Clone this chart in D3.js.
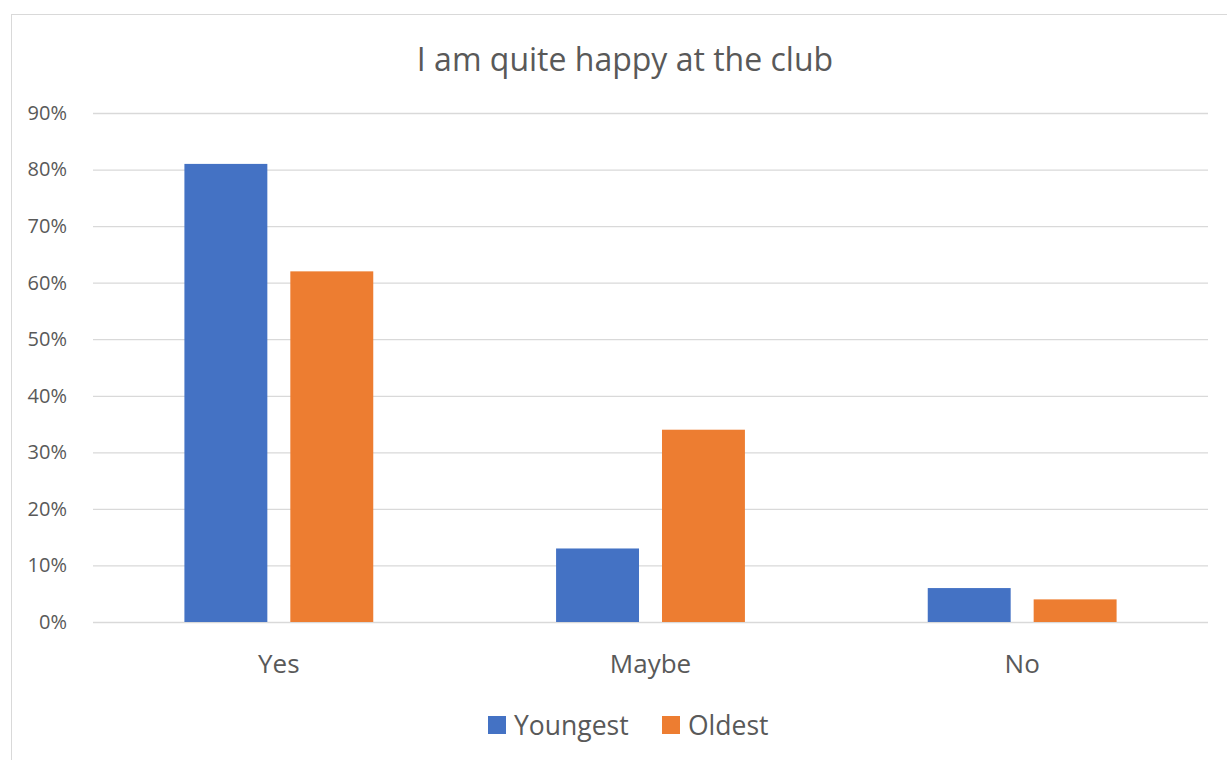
<!DOCTYPE html>
<html>
<head>
<meta charset="utf-8">
<script src="https://cdn.jsdelivr.net/npm/d3@7"></script>
<style>
  body { margin: 0; background: #fff; }
  svg { display: block; font-family: "Open Sans", sans-serif; }
</style>
</head>
<body>
<svg id="chart"></svg>
<script>
const categories = ['Yes', 'Maybe', 'No'];
const seriesNames = ['Youngest', 'Oldest'];
const youngest = [0.81, 0.13, 0.06];
const oldest = [0.62, 0.34, 0.04];
const yTicks = [0, 0.1, 0.2, 0.3, 0.4, 0.5, 0.6, 0.7, 0.8, 0.9];
const colors = ['#4472C4', '#ED7D31'];

const width = 1227, height = 760;
const margin = { top: 113, right: 19, bottom: 138, left: 93 };

const svg = d3.select('#chart')
  .attr('width', width)
  .attr('height', height);

// chart frame
svg.append('rect')
  .attr('x', 11.5).attr('y', 14.5)
  .attr('width', width + 10).attr('height', height + 10)
  .attr('fill', '#fff')
  .attr('stroke', '#D9D9D9');

svg.append('text')
  .attr('x', 625).attr('y', 71)
  .attr('text-anchor', 'middle')
  .attr('font-size', 32)
  .attr('fill', '#595959')
  .text('I am quite happy at the club');

const x = d3.scaleBand()
  .domain(categories)
  .range([margin.left, width - margin.right]);

const x1 = d3.scaleBand()
  .domain(seriesNames)
  .range([0, x.bandwidth()])
  .paddingInner(0.217)
  .paddingOuter(0.863);

const y = d3.scaleLinear()
  .domain([0, 0.9])
  .range([height - margin.bottom, margin.top]);

// gridlines
svg.append('g')
  .attr('transform', `translate(${margin.left},0)`)
  .call(d3.axisLeft(y).tickValues(yTicks).tickSize(-(width - margin.left - margin.right)).tickFormat(''))
  .call(g => g.select('.domain').remove())
  .call(g => g.selectAll('line').attr('stroke', '#D9D9D9').attr('stroke-width', 1.3));

// y labels
svg.append('g')
  .attr('transform', `translate(${margin.left - 23},0)`)
  .call(d3.axisLeft(y).tickValues(yTicks).tickSize(0).tickFormat(d3.format('.0%')))
  .call(g => g.select('.domain').remove())
  .call(g => g.selectAll('text').attr('font-size', 20).attr('fill', '#595959').attr('font-family', '"Open Sans", sans-serif'));

const series = [youngest, oldest];

const groups = svg.append('g').selectAll('g')
  .data(categories)
  .join('g')
  .attr('transform', d => `translate(${x(d)},0)`);

groups.selectAll('rect')
  .data((d, i) => seriesNames.map((s, j) => ({ s, v: series[j][i], c: colors[j] })))
  .join('rect')
  .attr('x', d => x1(d.s))
  .attr('width', x1.bandwidth())
  .attr('y', d => y(d.v))
  .attr('height', d => y(0) - y(d.v))
  .attr('fill', d => d.c);

// x labels
svg.append('g')
  .attr('transform', `translate(0,${y(0) + 30})`)
  .call(d3.axisBottom(x).tickSize(0))
  .call(g => g.select('.domain').remove())
  .call(g => g.selectAll('text').attr('font-size', 26).attr('fill', '#595959').attr('font-family', '"Open Sans", sans-serif'));

// legend
const legendItems = [
  { name: seriesNames[0], color: colors[0], x: 488 },
  { name: seriesNames[1], color: colors[1], x: 662 }
];
const legend = svg.append('g');
legendItems.forEach(item => {
  legend.append('rect')
    .attr('x', item.x).attr('y', 716)
    .attr('width', 18).attr('height', 18)
    .attr('fill', item.color);
  legend.append('text')
    .attr('x', item.x + 26).attr('y', 735)
    .attr('font-size', 26.5)
    .attr('fill', '#595959')
    .text(item.name);
});
</script>
</body>
</html>
